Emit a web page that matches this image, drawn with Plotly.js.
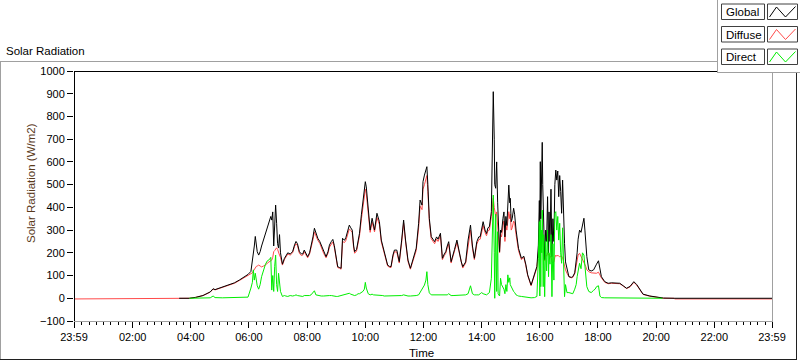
<!DOCTYPE html>
<html><head><meta charset="utf-8">
<script src="https://cdn.plot.ly/plotly-3.0.1.min.js"></script>
<style>html,body{margin:0;padding:0;background:#fff;}#chart{width:800px;height:361px;}</style>
</head><body><div id="chart"></div>
<script>
const DAY = "2024-06-01";
const PREV_DAY = "2024-05-31";

const times = [
"23:59","03:35","03:36","03:57","04:10","04:25","04:40","04:46","04:50","05:05",
"05:20","05:30","05:40","05:50","05:58","06:04","06:07","06:09","06:11","06:13",
"06:15","06:17","06:20","06:23","06:26","06:30","06:34","06:38","06:42","06:45",
"06:47","06:49","06:51","06:53","06:55","06:57","06:59","07:01","07:03","07:05",
"07:09","07:13","07:16","07:20","07:25","07:30","07:34","07:37","07:40","07:44",
"07:48","07:51","07:54","07:58","08:01","08:05","08:08","08:12","08:15","08:18",
"08:22","08:26","08:29","08:34","08:39","08:43","08:46","08:50","08:53","08:56",
"09:00","09:03","09:07","09:10","09:13","09:17","09:20","09:24","09:27","09:30",
"09:33","09:36","09:38","09:42","09:45","09:48","09:52","09:55","09:58","10:00",
"10:02","10:04","10:06","10:10","10:14","10:17","10:19","10:24","10:27","10:29",
"10:33","10:36","10:39","10:43","10:46","10:50","10:53","10:57","11:00","11:05",
"11:10","11:15","11:19","11:23","11:28","11:33","11:38","11:45","11:50","11:53",
"11:57","11:59","12:02","12:05","12:07","12:09","12:12","12:16","12:20","12:23",
"12:27","12:30","12:35","12:39","12:43","12:46","12:49","12:52","12:57","13:01",
"13:04","13:09","13:14","13:18","13:21","13:27","13:32","13:37","13:41","13:45",
"13:50","13:54","13:57","14:00","14:03","14:07","14:10","14:13","14:16","14:20",
"14:22","14:24","14:26","14:27","14:29","14:31","14:33","14:34","14:37","14:39",
"14:41","14:44","14:46","14:48","14:50","14:52","14:54","14:56","14:58","14:59",
"15:01","15:03","15:06","15:08","15:11","15:14","15:16","15:22","15:27","15:31",
"15:35","15:42","15:49","15:54","15:57","15:59","16:00","16:01","16:02","16:03",
"16:04","16:05","16:06","16:07","16:08","16:10","16:12","16:14","16:16","16:18",
"16:19","16:21","16:23","16:25","16:27","16:29","16:31","16:33","16:35","16:37",
"16:39","16:41","16:43","16:45","16:47","16:49","16:51","16:53","16:56","17:00",
"17:05","17:08","17:12","17:15","17:17","17:19","17:22","17:25","17:28","17:31",
"17:33","17:35","17:37","17:41","17:46","17:51","17:54","17:57","18:01","18:04",
"18:07","18:14","18:21","18:28","18:35","18:45","18:52","18:59","19:06","19:14",
"19:20","19:26","19:33","19:47","20:01","20:13","20:15","20:37","20:38","23:59"
];

const globalRad = [
null,null,0,0,4,12,28,42,38,48,
58,68,80,92,105,118,160,200,230,272,
240,205,190,205,230,256,285,310,330,360,
344,380,230,300,410,330,240,221,280,200,
150,175,185,200,195,205,235,250,240,205,
195,195,212,198,183,200,227,270,308,285,
264,250,234,205,183,205,234,250,259,232,
168,139,135,132,264,255,268,300,322,310,
300,230,205,215,250,286,370,418,470,513,
490,440,374,300,352,310,300,374,345,337,
256,230,205,170,146,140,139,190,212,212,
161,256,344,256,168,132,168,220,330,432,
410,513,542,560,579,500,352,271,255,249,
270,260,286,176,195,205,230,249,161,200,
215,256,200,160,139,160,256,322,230,176,
249,270,271,300,337,300,285,310,315,381,
645,909,700,500,484,600,420,337,205,300,
290,352,380,270,360,320,410,498,420,440,
337,350,396,370,300,260,220,176,185,150,
103,58,103,140,234,430,300,601,350,520,
450,686,500,374,420,170,300,250,447,200,
380,250,480,183,350,250,500,564,520,560,
447,540,470,374,520,300,242,160,125,95,
92,95,112,154,200,260,300,290,330,352,
300,212,183,125,120,125,140,150,165,125,
95,73,66,68,66,66,55,44,52,73,
60,40,18,10,5,2,1,0,0,0
];

const diffuseRad = [
-3,-3,0,0,4,12,27,40,37,47,
57,66,78,90,102,110,112,120,128,138,
140,142,146,142,138,142,146,155,161,165,
168,180,205,210,220,222,215,195,190,180,
146,170,180,195,190,200,228,240,232,198,
188,190,205,192,178,195,220,258,292,272,
255,242,225,198,178,198,225,240,248,225,
162,135,132,128,250,245,255,285,305,298,
290,220,198,208,240,275,350,395,440,480,
460,420,360,290,335,300,292,355,330,325,
248,222,198,165,142,136,135,182,205,203,
155,245,330,248,162,128,160,210,310,405,
390,480,500,520,540,470,340,262,248,240,
260,250,275,170,188,198,222,238,155,192,
208,245,192,152,133,155,240,300,220,170,
238,258,260,288,320,290,275,298,300,360,
420,440,400,374,360,380,330,300,200,280,
270,320,340,250,320,300,350,381,350,370,
300,310,340,330,280,245,210,170,180,145,
100,55,100,135,200,260,250,280,260,290,
270,290,270,240,220,165,190,185,200,190,
195,180,185,160,155,160,180,190,185,190,
185,183,185,185,180,160,140,125,110,95,
90,92,108,150,175,190,198,185,170,160,
145,139,125,117,112,110,112,110,115,103,
90,70,64,66,64,64,54,43,50,70,
58,39,17,9,4,1,0,0,-3,-3
];

const directRad = [
null,null,null,0,1,2,2,10,3,2,
2,3,3,3,5,45,70,125,80,110,
70,55,40,60,95,125,150,165,170,180,
36,100,30,139,190,60,30,110,51,30,
8,12,10,8,12,10,12,15,12,10,
10,8,12,12,10,12,15,25,33,15,
12,12,10,10,12,12,12,12,10,10,
8,8,10,12,15,15,18,20,22,18,
15,15,12,15,20,20,25,30,40,70,
45,30,20,15,18,15,15,15,15,12,
12,12,10,10,10,10,10,12,12,12,
10,12,15,12,10,10,10,12,15,25,
40,45,58,80,117,60,24,15,15,15,
15,15,15,12,12,15,15,20,12,12,
12,15,12,12,12,15,20,55,20,15,
15,15,20,25,20,15,15,20,25,88,
367,454,200,0,370,30,293,20,10,88,
60,50,40,20,60,30,103,70,90,60,
50,40,30,25,15,12,10,8,6,5,
3,2,3,8,176,337,10,344,51,300,
200,388,100,51,280,7,250,120,300,95,
200,150,280,7,240,80,374,381,300,360,
256,330,200,154,310,80,7,60,25,25,
20,20,40,60,95,125,154,130,200,190,
130,80,51,30,25,35,40,51,55,10,
3,2,2,2,2,2,2,2,2,3,
2,2,2,1,1,0,null,null,null,null
];

const xTickLabels = ["23:59","02:00","04:00","06:00","08:00","10:00","12:00","14:00","16:00","18:00","20:00","22:00","23:59"];
const yTickVals = [-100,0,100,200,300,400,500,600,700,800,900,1000];
const seriesNames = ["Global","Diffuse","Direct"];
const seriesColors = ["#000000","#ff4a4a","#00ee00"];

const xs = times.map((t, i) => (i === 0 ? PREV_DAY : DAY) + " " + t);
const tickVals = xTickLabels.map((t, i) => (i === 0 ? PREV_DAY : DAY) + " " + t);

const FONT = "Liberation Sans, Arial, sans-serif";
const L = 74, T = 71, W = 698, H = 250;
const px = x => (x - L) / W;
const py = y => (T + H - y) / H;

function line(x0, y0, x1, y1, color) {
  return {type: "line", xref: "paper", yref: "paper", x0: px(x0), y0: py(y0), x1: px(x1), y1: py(y1),
          line: {color: color, width: 1}, layer: "above"};
}
function rect(x0, y0, x1, y1, lineColor, fill) {
  return {type: "rect", xref: "paper", yref: "paper", x0: px(x0), y0: py(y0), x1: px(x1), y1: py(y1),
          line: {color: lineColor, width: lineColor ? 1 : 0}, fillcolor: fill, layer: "above"};
}

const traces = [
  {x: xs, y: diffuseRad, name: seriesNames[1], mode: "lines", line: {color: seriesColors[1], width: 1}},
  {x: xs, y: globalRad, name: seriesNames[0], mode: "lines", line: {color: seriesColors[0], width: 1}},
  {x: xs, y: directRad, name: seriesNames[2], mode: "lines", line: {color: seriesColors[2], width: 1}}
];

const shapes = [
  // outer frame
  line(0, 61.5, 800, 61.5, "#a0a0a0"),
  line(0.5, 61, 0.5, 360, "#a0a0a0"),
  line(0, 359.5, 797, 359.5, "#202020"),
  line(796.5, 61, 796.5, 360, "#202020"),
  // plot frame
  line(74, 71.5, 772, 71.5, "#000000"),
  line(74.5, 71, 74.5, 322, "#000000"),
  line(772.5, 71, 772.5, 322, "#a0a0a0"),
  line(74, 321.5, 773, 321.5, "#a0a0a0"),
  // legend panel
  rect(717, -1, 801, 72.5, null, "#ffffff"),
  line(717.5, 0, 717.5, 72.5, "#a0a0a0"),
  line(717, 72.5, 800, 72.5, "#a0a0a0")
];

const rowTops = [4, 26.5, 49];
const annotations = [
  {text: "Solar Radiation", x: px(4), y: py(51), xref: "paper", yref: "paper", xanchor: "left", yanchor: "middle",
   showarrow: false, font: {family: FONT, size: 11.5, color: "#000"}},
  {text: "Solar Radiation (W/m2)", x: px(31), y: py(183), xref: "paper", yref: "paper", xanchor: "center", yanchor: "middle",
   textangle: -90, showarrow: false, font: {family: FONT, size: 11.5, color: "#5a3a1c"}},
  {text: "Time", x: px(421), y: py(353), xref: "paper", yref: "paper", xanchor: "center", yanchor: "middle",
   showarrow: false, font: {family: FONT, size: 11.5, color: "#000"}}
];

seriesNames.forEach((nm, i) => {
  const t = rowTops[i], b = t + 15.5;
  shapes.push(rect(721.5, t, 764.5, b, "#404040", "#ffffff"));
  shapes.push(rect(767.5, t, 797.5, b, "#404040", "#ffffff"));
  shapes.push({type: "path", xref: "paper", yref: "paper", layer: "above",
    path: "M" + px(769.5) + "," + py(t + 13) + " L" + px(776.5) + "," + py(t + 3) +
          " L" + px(785.5) + "," + py(t + 13) + " L" + px(795.5) + "," + py(t + 2.5),
    line: {color: seriesColors[i], width: 1}});
  annotations.push({text: nm, x: px(723.5), y: py(t + 8), xref: "paper", yref: "paper", xanchor: "left", yanchor: "middle",
    showarrow: false, font: {family: FONT, size: 11.5, color: "#000"}});
});

const layout = {
  width: 800, height: 361,
  margin: {l: L, r: 800 - L - W, t: T, b: 361 - T - H, pad: 0},
  paper_bgcolor: "#ffffff", plot_bgcolor: "#ffffff",
  showlegend: false,
  xaxis: {
    type: "date", range: [tickVals[0], tickVals[tickVals.length - 1]],
    tickmode: "array", tickvals: tickVals, ticktext: xTickLabels,
    ticks: "outside", ticklen: 6, tickcolor: "#000", tickwidth: 1,
    showgrid: false, zeroline: false, showline: false,
    tickfont: {family: FONT, size: 11, color: "#000"},
    minor: {tickmode: "linear", tick0: DAY + " 00:00", dtick: 15 * 60 * 1000, ticks: "outside", ticklen: 3, tickcolor: "#000", showgrid: false}
  },
  yaxis: {
    range: [-100, 1000], tickmode: "array", tickvals: yTickVals,
    ticks: "outside", ticklen: 6, tickcolor: "#000", tickwidth: 1,
    showgrid: false, zeroline: false, showline: false,
    tickfont: {family: FONT, size: 11, color: "#000"}
  },
  shapes: shapes,
  annotations: annotations
};

Plotly.newPlot("chart", traces, layout, {staticPlot: true, displayModeBar: false});
</script>
</body></html>
